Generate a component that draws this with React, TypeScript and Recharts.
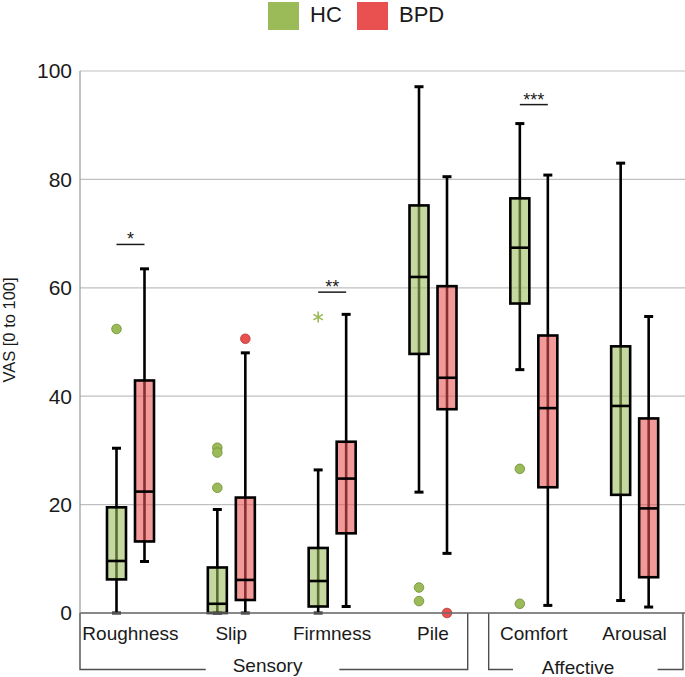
import React from 'react'
import {
  ComposedChart,
  Bar,
  XAxis,
  YAxis,
  CartesianGrid,
  Legend,
  Customized,
} from 'recharts'
import * as R from 'recharts'

const categories = ['Roughness', 'Slip', 'Firmness', 'Pile', 'Comfort', 'Arousal']

// [lower whisker, Q1, median, Q3, upper whisker]
const hcBoxes = [
  [0, 6.2, 9.6, 19.5, 30.4],
  [0, 0, 1.7, 8.4, 19.1],
  [0, 1.2, 5.9, 12.0, 26.4],
  [22.3, 47.8, 62.0, 75.2, 97.1],
  [44.9, 57.1, 67.4, 76.5, 90.3],
  [2.3, 21.8, 38.2, 49.2, 83.0],
]
const bpdBoxes = [
  [9.5, 13.2, 22.4, 42.9, 63.5],
  [0, 2.4, 6.1, 21.3, 48.0],
  [1.2, 14.7, 24.8, 31.6, 55.1],
  [11.0, 37.6, 43.4, 60.3, 80.5],
  [1.4, 23.2, 37.8, 51.2, 80.8],
  [1.1, 6.6, 19.3, 35.9, 54.7],
]

const hcOutliers = [[52.4], [30.5, 29.6, 23.1], [], [4.7, 2.2], [26.6, 1.7], []]
const hcExtremes = [[], [], [54.6], [], [], []]
const bpdOutliers = [[], [50.6], [], [0], [], []]
const bpdExtremes = [[], [], [], [], [], []]

const significance = ['*', '', '**', '', '***', '']
const significanceLevel = [68, 0, 59.2, 0, 93.8, 0]

const yTicks = [0, 20, 40, 60, 80, 100]
const seriesNames = ['HC', 'BPD']

const groups = [
  { label: 'Sensory', from: 0, lineEnd: 1.247, textAt: 1.86, lineStart: 2.572, to: 3.845, baseline: 59 },
  { label: 'Affective', from: 4.053, lineEnd: 4.294, textAt: 4.939, lineStart: 5.729, to: 5.98, baseline: 61 },
]

const HC_COLOR = '#9bbb59'
const BPD_COLOR = '#e8514f'
const FONT = '"Liberation Sans", Arial, Helvetica, sans-serif'

const BAR_SIZE = 19
const BAR_GAP = 9
const PLOT_LEFT = 80
const PLOT_BOTTOM = 613

const data = categories.map((name, i) => ({
  name,
  hcBox: hcBoxes[i],
  bpdBox: bpdBoxes[i],
  hcRange: [hcBoxes[i][0], hcBoxes[i][4]],
  bpdRange: [bpdBoxes[i][0], bpdBoxes[i][4]],
  hcOut: hcOutliers[i],
  hcExt: hcExtremes[i],
  bpdOut: bpdOutliers[i],
  bpdExt: bpdExtremes[i],
  sig: significance[i],
  sigLevel: significanceLevel[i],
}))

function Asterisk({ cx, cy, color }: any) {
  const r = 5.5
  const arms = [90, 30, 150].map((a) => {
    const t = (a * Math.PI) / 180
    return `M${cx - r * Math.cos(t)},${cy - r * Math.sin(t)}L${cx + r * Math.cos(t)},${cy + r * Math.sin(t)}`
  })
  return <path d={arms.join('')} stroke={color} strokeWidth={1.6} fill="none" />
}

function BoxShape(props: any) {
  const { x, y, width, height, payload, series } = props
  const isHc = series === 'hc'
  const stats = isHc ? payload.hcBox : payload.bpdBox
  const outliers = isHc ? payload.hcOut : payload.bpdOut
  const extremes = isHc ? payload.hcExt : payload.bpdExt
  const color = isHc ? HC_COLOR : BPD_COLOR
  const dotStroke = isHc ? '#6f8b35' : '#b53531'
  const [lo, q1, med, q3, hi] = stats
  const top = Math.min(y, y + height)
  const bottom = Math.max(y, y + height)
  const toY = (v: number) => bottom - ((bottom - top) * (v - lo)) / (hi - lo)
  const cx = x + width / 2
  const cap = 4.5

  return (
    <g>
      <line x1={cx} x2={cx} y1={toY(hi)} y2={toY(lo)} stroke="#000" strokeWidth={2.6} />
      <line x1={cx - cap} x2={cx + cap} y1={toY(hi)} y2={toY(hi)} stroke="#000" strokeWidth={3} />
      <line x1={cx - cap} x2={cx + cap} y1={toY(lo)} y2={toY(lo)} stroke="#000" strokeWidth={3} />
      <rect
        x={x}
        y={toY(q3)}
        width={width}
        height={toY(q1) - toY(q3)}
        fill={color}
        fillOpacity={0.58}
        stroke="#000"
        strokeWidth={2.6}
      />
      <line x1={x} x2={x + width} y1={toY(med)} y2={toY(med)} stroke="#000" strokeWidth={2.6} />
      {outliers.map((v: number, i: number) => (
        <circle key={'o' + i} cx={cx} cy={toY(v)} r={4.8} fill={color} stroke={dotStroke} strokeWidth={0.8} />
      ))}
      {extremes.map((v: number, i: number) => (
        <Asterisk key={'e' + i} cx={cx} cy={toY(v)} color={color} />
      ))}
      {!isHc && payload.sig ? (
        <g>
          <line
            x1={cx - (width + BAR_GAP)}
            x2={cx}
            y1={toY(payload.sigLevel)}
            y2={toY(payload.sigLevel)}
            stroke="#1a1a1a"
            strokeWidth={1.5}
          />
          <text
            x={cx - (width + BAR_GAP) / 2}
            y={toY(payload.sigLevel) + 1}
            textAnchor="middle"
            fontSize={18}
            fontFamily={FONT}
            fill="#1a1a1a"
          >
            {payload.sig}
          </text>
        </g>
      ) : null}
    </g>
  )
}

function Brackets() {
  const area = (R as any).usePlotArea ? (R as any).usePlotArea() : undefined
  const left = area ? area.x : PLOT_LEFT
  const base = area ? area.y + area.height : PLOT_BOTTOM
  const band = area ? area.width / categories.length : (685 - PLOT_LEFT) / categories.length
  const lineY = base + 56.5
  const px = (u: number) => left + u * band
  return (
    <g stroke="#4d4d4d" strokeWidth={1.4} fill="none">
      {groups.map((g) => (
        <g key={g.label}>
          <path d={`M${px(g.from)},${base}V${lineY}H${px(g.lineEnd)}`} />
          <path d={`M${px(g.lineStart)},${lineY}H${px(g.to)}V${base}`} />
          <text
            x={px(g.textAt)}
            y={base + g.baseline}
            textAnchor="middle"
            fontSize={19}
            fontFamily={FONT}
            fill="#1a1a1a"
            stroke="none"
          >
            {g.label}
          </text>
        </g>
      ))}
    </g>
  )
}

function LegendContent({ payload }: any) {
  const positions = [268, 357]
  const entries = seriesNames.map((n) => (payload || []).find((e: any) => e.value === n)).filter(Boolean)
  return (
    <div style={{ position: 'relative', width: 685, height: 30, fontFamily: FONT }}>
      {entries.map((entry: any, i: number) => (
        <div key={entry.value} style={{ position: 'absolute', left: positions[i], top: 0, height: 30, display: 'flex', alignItems: 'center' }}>
          <div style={{ width: 31, height: 28, background: entry.color, marginTop: 1 }} />
          <span style={{ marginLeft: 11, fontSize: 22, color: '#1a1a1a', lineHeight: '30px' }}>{entry.value}</span>
        </div>
      ))}
    </div>
  )
}

export default function App() {
  return (
    <div style={{ position: 'absolute', left: 0, top: 0, background: '#fff' }}>
      <ComposedChart
        width={685}
        height={677}
        data={data}
        margin={{ top: 41, right: 0, bottom: 0, left: 0 }}
        barSize={BAR_SIZE}
        barGap={BAR_GAP}
      >
        <CartesianGrid vertical={false} stroke="#bfbfbf" strokeWidth={1.2} />
        <XAxis
          dataKey="name"
          height={64}
          interval={0}
          tickLine={false}
          tickMargin={8}
          axisLine={{ stroke: '#6b6b6b', strokeWidth: 1.4 }}
          tick={{ fontSize: 19, fill: '#1a1a1a', fontFamily: FONT }}
        />
        <YAxis
          type="number"
          domain={[0, 100]}
          ticks={yTicks}
          width={80}
          tickLine={false}
          axisLine={{ stroke: '#9a9a9a', strokeWidth: 1.2 }}
          tick={{ fontSize: 21, fill: '#1a1a1a', fontFamily: FONT }}
          label={{
            content: ({ viewBox }: any) => (
              <text
                x={0}
                y={0}
                transform={`translate(${viewBox.x + 15}, ${viewBox.y + viewBox.height / 2 - 12}) rotate(-90)`}
                textAnchor="middle"
                fontSize={16.5}
                fontFamily={FONT}
                fill="#1a1a1a"
              >
                VAS [0 to 100]
              </text>
            ),
          }}
        />
        <Legend
          verticalAlign="top"
          align="left"
          content={<LegendContent />}
          wrapperStyle={{ top: 0, left: 0, width: 685, height: 30 }}
        />
        <Bar
          name="HC"
          dataKey={(d: any) => d.hcRange}
          fill={HC_COLOR}
          isAnimationActive={false}
          shape={(p: any) => <BoxShape {...p} series="hc" />}
        />
        <Bar
          name="BPD"
          dataKey={(d: any) => d.bpdRange}
          fill={BPD_COLOR}
          isAnimationActive={false}
          shape={(p: any) => <BoxShape {...p} series="bpd" />}
        />
        <Customized component={<Brackets />} />
      </ComposedChart>
    </div>
  )
}
